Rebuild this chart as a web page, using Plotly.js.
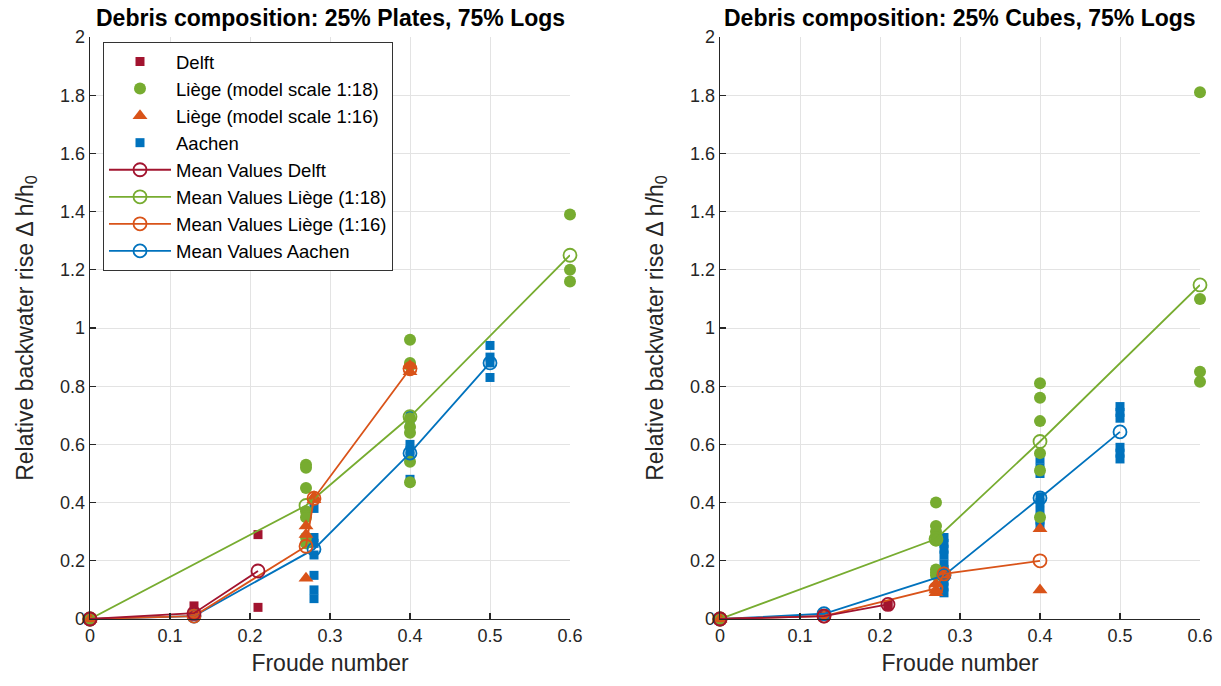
<!DOCTYPE html>
<html>
<head>
<meta charset="utf-8">
<script src="https://cdn.plot.ly/plotly-3.0.1.min.js"></script>
<style>
  html, body { margin: 0; padding: 0; background: #ffffff; }
  #chart { width: 1221px; height: 686px; }
</style>
</head>
<body>
<div id="chart"></div>
<script>
// ---- Panel 1: 25% Plates, 75% Logs ----
const platesDelftX   = [0, 0, 0.13, 0.13, 0.13, 0.21, 0.21];
const platesDelftY   = [0, 0, 0.045, 0.02, 0.01, 0.29, 0.04];
const platesLiege18X = [0, 0.27, 0.27, 0.27, 0.27, 0.27, 0.27, 0.27, 0.4, 0.4, 0.4, 0.4, 0.4, 0.4, 0.4, 0.4, 0.6, 0.6, 0.6];
const platesLiege18Y = [0, 0.53, 0.52, 0.45, 0.37, 0.35, 0.28, 0.26, 0.96, 0.88, 0.87, 0.69, 0.66, 0.64, 0.54, 0.47, 1.39, 1.20, 1.16];
const platesLiege16X = [0, 0.13, 0.27, 0.27, 0.27, 0.28, 0.28, 0.4, 0.4];
const platesLiege16Y = [0, 0.01, 0.14, 0.32, 0.29, 0.42, 0.41, 0.87, 0.85];
const platesAachenX  = [0, 0.13, 0.28, 0.28, 0.28, 0.28, 0.28, 0.28, 0.28, 0.4, 0.4, 0.4, 0.4, 0.4, 0.4, 0.5, 0.5, 0.5, 0.5];
const platesAachenY  = [0, 0.01, 0.38, 0.28, 0.26, 0.22, 0.15, 0.10, 0.07, 0.70, 0.68, 0.60, 0.58, 0.56, 0.48, 0.94, 0.90, 0.88, 0.83];

const platesMeanDelftX   = [0, 0.13, 0.21];
const platesMeanDelftY   = [0, 0.02, 0.165];
const platesMeanLiege18X = [0, 0.27, 0.4, 0.6];
const platesMeanLiege18Y = [0, 0.39, 0.695, 1.25];
const platesMeanLiege16X = [0, 0.13, 0.27, 0.28, 0.4];
const platesMeanLiege16Y = [0, 0.01, 0.25, 0.415, 0.86];
const platesMeanAachenX  = [0, 0.13, 0.28, 0.4, 0.5];
const platesMeanAachenY  = [0, 0.01, 0.24, 0.57, 0.88];

// ---- Panel 2: 25% Cubes, 75% Logs ----
const cubesDelftX   = [0, 0, 0.13, 0.13, 0.21, 0.21];
const cubesDelftY   = [0, 0, 0.01, 0.01, 0.05, 0.045];
const cubesLiege18X = [0, 0.27, 0.27, 0.27, 0.27, 0.27, 0.27, 0.27, 0.27, 0.4, 0.4, 0.4, 0.4, 0.4, 0.4, 0.6, 0.6, 0.6, 0.6];
const cubesLiege18Y = [0, 0.40, 0.32, 0.30, 0.28, 0.27, 0.17, 0.16, 0.15, 0.81, 0.76, 0.68, 0.57, 0.51, 0.35, 1.81, 1.10, 0.85, 0.815];
const cubesLiege16X = [0, 0.13, 0.27, 0.27, 0.27, 0.28, 0.28, 0.4, 0.4];
const cubesLiege16Y = [0, 0.01, 0.09, 0.12, 0.10, 0.16, 0.15, 0.31, 0.10];
const cubesAachenX  = [0, 0.13, 0.28, 0.28, 0.28, 0.28, 0.28, 0.28, 0.28, 0.28, 0.28, 0.28, 0.4, 0.4, 0.4, 0.4, 0.4, 0.4, 0.4, 0.4, 0.5, 0.5, 0.5, 0.5, 0.5, 0.5];
const cubesAachenY  = [0, 0.018, 0.28, 0.26, 0.24, 0.22, 0.19, 0.17, 0.15, 0.13, 0.11, 0.09, 0.55, 0.52, 0.50, 0.42, 0.40, 0.37, 0.34, 0.32, 0.73, 0.71, 0.69, 0.59, 0.57, 0.55];

const cubesMeanDelftX   = [0, 0.13, 0.21];
const cubesMeanDelftY   = [0, 0.01, 0.05];
const cubesMeanLiege18X = [0, 0.27, 0.4, 0.6];
const cubesMeanLiege18Y = [0, 0.275, 0.61, 1.148];
const cubesMeanLiege16X = [0, 0.13, 0.27, 0.28, 0.4];
const cubesMeanLiege16Y = [0, 0.01, 0.105, 0.155, 0.2];
const cubesMeanAachenX  = [0, 0.13, 0.28, 0.4, 0.5];
const cubesMeanAachenY  = [0, 0.018, 0.15, 0.416, 0.643];

const panelTitles = ['Debris composition: 25% Plates, 75% Logs', 'Debris composition: 25% Cubes, 75% Logs'];
const seriesNames = ['Delft', 'Liège (model scale 1:18)', 'Liège (model scale 1:16)', 'Aachen',
                     'Mean Values Delft', 'Mean Values Liège (1:18)', 'Mean Values Liège (1:16)', 'Mean Values Aachen'];

const C_DELFT = '#A2142F', C_L18 = '#77AC30', C_L16 = '#D95319', C_AACHEN = '#0072BD';

function panelTraces(xa, ya, showLegend, d) {
  const common = { xaxis: xa, yaxis: ya, showlegend: showLegend, cliponaxis: false, hoverinfo: 'x+y' };
  const pts = (x, y, name, rank, marker) => Object.assign({ type: 'scatter', mode: 'markers', x, y, name, legendrank: rank, marker }, common);
  const mean = (x, y, name, rank, color) => Object.assign({
    type: 'scatter', mode: 'lines+markers', x, y, name, legendrank: rank,
    line: { color, width: 1.8 },
    marker: { symbol: 'circle-open', size: 13, color, line: { width: 1.8, color } }
  }, common);
  return [
    pts(d.aX, d.aY, seriesNames[3], 4, { symbol: 'square', size: 9, color: C_AACHEN }),
    pts(d.dX, d.dY, seriesNames[0], 1, { symbol: 'square', size: 9, color: C_DELFT }),
    pts(d.l18X, d.l18Y, seriesNames[1], 2, { symbol: 'circle', size: 12, color: C_L18 }),
    pts(d.l16X, d.l16Y, seriesNames[2], 3, { symbol: 'triangle-up', size: 13, color: C_L16 }),
    mean(d.maX, d.maY, seriesNames[7], 8, C_AACHEN),
    mean(d.m18X, d.m18Y, seriesNames[5], 6, C_L18),
    mean(d.m16X, d.m16Y, seriesNames[6], 7, C_L16),
    mean(d.mdX, d.mdY, seriesNames[4], 5, C_DELFT)
  ];
}

const traces = [].concat(
  panelTraces('x', 'y', true, {
    dX: platesDelftX, dY: platesDelftY, l18X: platesLiege18X, l18Y: platesLiege18Y,
    l16X: platesLiege16X, l16Y: platesLiege16Y, aX: platesAachenX, aY: platesAachenY,
    mdX: platesMeanDelftX, mdY: platesMeanDelftY, m18X: platesMeanLiege18X, m18Y: platesMeanLiege18Y,
    m16X: platesMeanLiege16X, m16Y: platesMeanLiege16Y, maX: platesMeanAachenX, maY: platesMeanAachenY
  }),
  panelTraces('x2', 'y2', false, {
    dX: cubesDelftX, dY: cubesDelftY, l18X: cubesLiege18X, l18Y: cubesLiege18Y,
    l16X: cubesLiege16X, l16Y: cubesLiege16Y, aX: cubesAachenX, aY: cubesAachenY,
    mdX: cubesMeanDelftX, mdY: cubesMeanDelftY, m18X: cubesMeanLiege18X, m18Y: cubesMeanLiege18Y,
    m16X: cubesMeanLiege16X, m16Y: cubesMeanLiege16Y, maX: cubesMeanAachenX, maY: cubesMeanAachenY
  })
);

const W = 1221, H = 686;
const FONT = 'Liberation Sans, Arial, sans-serif';
const AX_COLOR = '#262626';
const yDom = [1 - 619 / H, 1 - 37 / H];

function xAxis(domain, anchor) {
  return {
    domain, anchor, range: [0, 0.6], dtick: 0.1, tick0: 0,
    showgrid: true, gridcolor: '#e3e3e3', gridwidth: 1, zeroline: false,
    showline: true, linecolor: AX_COLOR, linewidth: 1.3, mirror: false,
    ticks: 'inside', ticklen: 6, tickwidth: 1.3, tickcolor: AX_COLOR,
    tickfont: { family: FONT, size: 18, color: AX_COLOR },
    title: { text: 'Froude number', font: { family: FONT, size: 23, color: AX_COLOR }, standoff: 10 },
    automargin: false, fixedrange: true
  };
}
function yAxis(anchor) {
  return {
    domain: yDom, anchor, range: [0, 2], dtick: 0.2, tick0: 0,
    showgrid: true, gridcolor: '#e3e3e3', gridwidth: 1, zeroline: false,
    showline: true, linecolor: AX_COLOR, linewidth: 1.3, mirror: false,
    ticks: 'inside', ticklen: 6, tickwidth: 1.3, tickcolor: AX_COLOR,
    tickfont: { family: FONT, size: 18, color: AX_COLOR },
    title: { text: 'Relative backwater rise Δ h/h<sub>0</sub>', font: { family: FONT, size: 23, color: AX_COLOR }, standoff: 20 },
    automargin: false, fixedrange: true
  };
}

const layout = {
  width: W, height: H,
  margin: { l: 0, r: 0, t: 0, b: 0 },
  paper_bgcolor: '#ffffff', plot_bgcolor: '#ffffff',
  font: { family: FONT, color: AX_COLOR },
  xaxis: xAxis([90 / W, 570 / W], 'y'),
  yaxis: yAxis('x'),
  xaxis2: xAxis([720 / W, 1200 / W], 'y2'),
  yaxis2: yAxis('x2'),
  showlegend: true,
  legend: {
    x: 103 / W, y: 1 - 42 / H, xanchor: 'left', yanchor: 'top',
    bgcolor: '#ffffff', bordercolor: '#333333', borderwidth: 1,
    font: { family: FONT, size: 18.5, color: '#000000' },
    tracegroupgap: 0, itemwidth: 62
  },
  annotations: panelTitles.map((t, i) => ({
    text: '<b>' + t + '</b>', xref: 'paper', yref: 'paper',
    x: (i === 0 ? 330 : 960) / W, y: 1 - 18 / H, xanchor: 'center', yanchor: 'middle',
    showarrow: false, font: { family: FONT, size: 23, color: '#000000' }
  }))
};

Plotly.newPlot('chart', traces, layout, { staticPlot: true, displayModeBar: false });
</script>
</body>
</html>
